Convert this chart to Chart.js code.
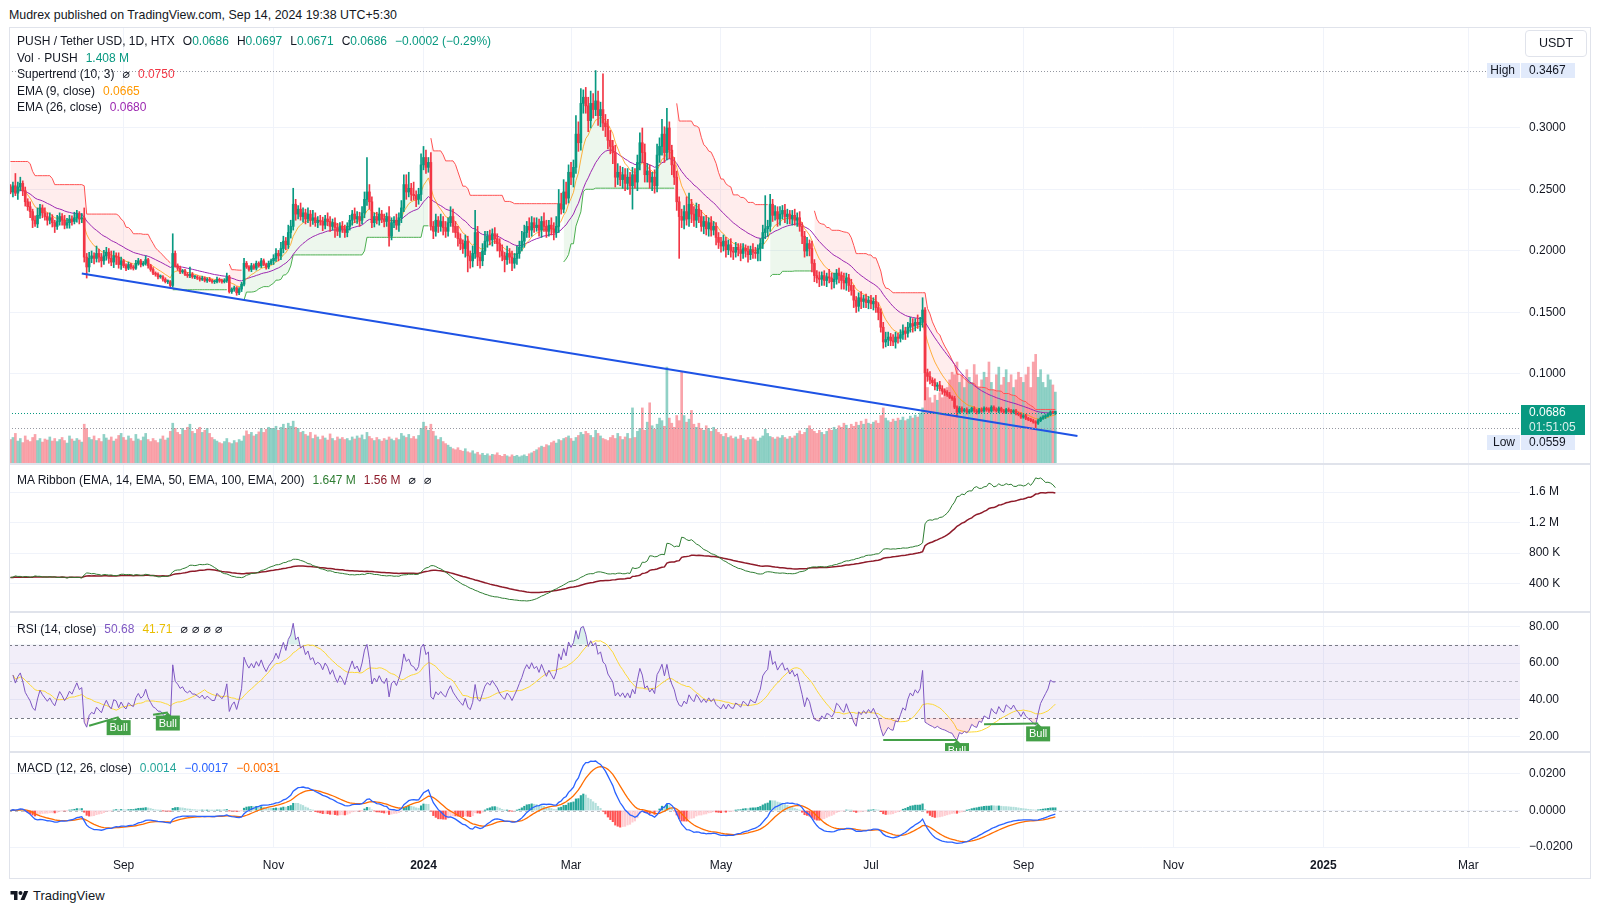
<!DOCTYPE html>
<html>
<head>
<meta charset="utf-8">
<title>PUSH / Tether USD, 1D</title>
<script src="https://cdn.jsdelivr.net/npm/chart.js@4.4.1/dist/chart.umd.min.js"></script>
<style>
  html, body { margin: 0; padding: 0; background: #fff; }
  body { width: 1600px; height: 912px; position: relative; overflow: hidden;
         font-family: "Liberation Sans", Arial, sans-serif; color: #131722; }
  canvas { position: absolute; left: 0; }
  .txt { position: absolute; white-space: nowrap; font-size: 12px; line-height: 16px; }
  .gap { display: inline-block; width: 8px; }
  .up { color: #089981; }
  .ln { position: absolute; background: #E0E3EB; }
  .na { color: #131722; font-family: "DejaVu Sans", sans-serif; font-size: 12.5px; }
  #unit { position: absolute; left: 1525px; top: 30px; width: 60px; height: 25px; border: 1px solid #E0E3EB;
          border-radius: 4px; font-size: 12.5px; line-height: 25px; text-align: center; }
  #logo { position: absolute; left: 10px; top: 888px; font-size: 13px; line-height: 16px; display: flex; align-items: center; gap: 4px; }
</style>
</head>
<body>
<canvas id="cPrice" width="1600" height="436" style="top:28px"></canvas>
<canvas id="cRibbon" width="1600" height="148" style="top:464px"></canvas>
<canvas id="cRsi" width="1600" height="140" style="top:612px"></canvas>
<canvas id="cMacd" width="1600" height="126" style="top:752px"></canvas>

<!-- frame and pane separators -->
<div class="ln" style="left:9px;top:27px;width:1582px;height:1px"></div>
<div class="ln" style="left:9px;top:27px;width:1px;height:852px"></div>
<div class="ln" style="left:1590px;top:27px;width:1px;height:852px"></div>
<div class="ln" style="left:9px;top:878px;width:1582px;height:1px"></div>
<div class="ln" style="left:9px;top:463px;width:1582px;height:2px"></div>
<div class="ln" style="left:9px;top:611px;width:1582px;height:2px"></div>
<div class="ln" style="left:9px;top:751px;width:1582px;height:2px"></div>

<div class="txt" style="left:9px;top:7px;font-size:12.4px">Mudrex published on TradingView.com, Sep 14, 2024 19:38 UTC+5:30</div>
<div id="unit">USDT</div>

<div class="txt" style="left:17px;top:33px">PUSH / Tether USD, 1D, HTX<span class="gap"></span>O<span class="up">0.0686</span><span class="gap"></span>H<span class="up">0.0697</span><span class="gap"></span>L<span class="up">0.0671</span><span class="gap"></span>C<span class="up">0.0686</span><span class="gap"></span><span class="up">&minus;0.0002 (&minus;0.29%)</span></div>
<div class="txt" style="left:17px;top:50px">Vol &middot; PUSH<span class="gap"></span><span class="up">1.408 M</span></div>
<div class="txt" style="left:17px;top:66px">Supertrend (10, 3)<span class="gap"></span><span class="na">&#8960;</span><span class="gap"></span><span style="color:#F23645">0.0750</span></div>
<div class="txt" style="left:17px;top:83px">EMA (9, close)<span class="gap"></span><span style="color:#FF9800">0.0665</span></div>
<div class="txt" style="left:17px;top:99px">EMA (26, close)<span class="gap"></span><span style="color:#9C27B0">0.0680</span></div>

<div class="txt" style="left:17px;top:472px">MA Ribbon (EMA, 14, EMA, 50, EMA, 100, EMA, 200)<span class="gap"></span><span style="color:#2E7D32">1.647 M</span><span class="gap"></span><span style="color:#8E1B2A">1.56 M</span><span class="gap"></span><span class="na">&#8960;</span><span class="gap"></span><span class="na">&#8960;</span></div>
<div class="txt" style="left:17px;top:621px">RSI (14, close)<span class="gap"></span><span style="color:#7E57C2">50.68</span><span class="gap"></span><span style="color:#E9BE00">41.71</span><span class="gap"></span><span class="na">&#8960;&nbsp;&#8960;&nbsp;&#8960;&nbsp;&#8960;</span></div>
<div class="txt" style="left:17px;top:760px">MACD (12, 26, close)<span class="gap"></span><span style="color:#26A69A">0.0014</span><span class="gap"></span><span style="color:#2962FF">&minus;0.0017</span><span class="gap"></span><span style="color:#FF6D00">&minus;0.0031</span></div>

<div id="logo"><svg width="19" height="14" viewBox="0 0 36 28"><path d="M14 22H7V11H0V4h14v18zM28 22h-8l7.5-18h8L28 22z" fill="#131722"/><circle cx="20" cy="8" r="4" fill="#131722"/></svg><span>TradingView</span></div>

<script>
// =============================================================================
// Data (daily candles, PUSH/USDT on HTX)
// closes and wicks are typed in 1/10000 USDT, volumes in units of 10 K PUSH
// =============================================================================
const START_DATE = '2023-07-17';
const FIRST_OPEN = 0.2520;
const PRICE_UNIT = 1e-4;
const VOL_UNIT = 1e4;

const close_2023_07 = [2480,2530,2470,2520,2550,2490,2400,2360,2320,2250,2220,2290,2350,2310,2280];
const close_2023_08 = [2250,2270,2230,2200,2240,2280,2250,2210,2230,2260,2240,2270,2300,2260,2270,1950,1870,1940,1960,1940,1980,1950,1920,1960,1990,1940,1910,1960,1950,1890,1920];
const close_2023_09 = [1880,1860,1890,1870,1860,1900,1920,1890,1900,1930,1880,1850,1820,1810,1790,1790,1770,1750,1750,1720,1980,1880,1860,1830,1840,1810,1800,1810,1790,1790];
const close_2023_10 = [1780,1770,1780,1760,1770,1760,1750,1750,1770,1760,1750,1760,1790,1670,1690,1700,1660,1690,1730,1900,1870,1850,1880,1860,1900,1880,1920,1890,1870,1900,1920];
const close_2023_11 = [1940,1980,1960,2020,2080,2050,2150,2200,2380,2300,2340,2280,2310,2260,2300,2250,2270,2230,2250,2240,2210,2260,2240,2200,2230,2190,2160,2200,2180,2150];
const close_2023_12 = [2200,2250,2300,2260,2280,2250,2310,2420,2480,2400,2230,2280,2250,2300,2260,2240,2280,2120,2230,2250,2210,2270,2350,2540,2480,2510,2460,2450,2420,2460,2700];
const close_2024_01 = [2760,2680,2720,2200,2160,2250,2200,2240,2190,2160,2230,2280,2200,2150,2100,2060,2020,2080,1960,1920,1980,2150,1950,1920,2000,2080,2120,2090,2140,2100,2060];
const close_2024_02 = [2000,1960,1930,1980,1950,1900,1940,1980,2030,2080,2150,2200,2170,2230,2190,2210,2170,2240,2200,2160,2210,2180,2150,2200,2380,2340,2480,2430,2640];
const close_2024_03 = [2600,2680,2950,2880,3200,3250,3180,3060,3200,3150,3220,3100,3150,3040,3010,2900,2850,2800,2600,2640,2580,2620,2550,2600,2530,2620,2560,2720,2880,2800,2620];
const close_2024_04 = [2650,2560,2600,2530,2780,2850,2950,2800,3000,2820,2700,2600,2400,2280,2250,2320,2260,2380,2300,2250,2340,2280,2200,2240,2180,2230,2170,2200,2110,2070];
const close_2024_05 = [2040,2080,2010,2050,2000,1990,2030,2010,1980,2020,2000,1970,2010,1990,1980,2020,2060,2150,2180,2200,2380,2290,2320,2260,2300,2330,2280,2300,2260,2290,2250];
const close_2024_06 = [2270,2200,2120,2000,2060,2020,1900,1800,1780,1770,1800,1760,1790,1780,1750,1770,1820,1800,1760,1740,1780,1720,1680,1600,1550,1620,1590,1610,1580,1600];
const close_2024_07 = [1570,1590,1540,1500,1380,1260,1280,1300,1270,1260,1300,1290,1320,1350,1330,1380,1410,1390,1420,1400,1420,1520,1010,980,950,930,900,910,880,860,850];
const close_2024_08 = [830,810,800,730,690,720,700,710,690,700,720,700,690,710,700,720,710,700,730,710,700,720,700,690,710,700,690,700,680,670,650];
const close_2024_09 = [660,640,630,620,610,600,620,640,650,660,670,690,686,686];

const upWick_2023_07 = [20,30,100,40,50,20,30,25,40,20,35,60,30,25,40];
const upWick_2023_08 = [30,40,25,20,50,30,25,40,35,30,25,45,30,20,35,80,30,50,40,25,60,35,30,45,40,30,60,40,25,35,30];
const upWick_2023_09 = [12,15,20,10,12,25,20,12,15,30,10,12,15,10,12,15,10,12,15,10,160,20,15,18,10,10,15,60,15,10];
const upWick_2023_10 = [10,12,15,10,12,15,10,12,18,10,12,15,30,12,10,15,10,12,15,40,15,12,20,15,18,12,20,15,12,18,15];
const upWick_2023_11 = [30,40,25,50,40,30,60,50,130,40,30,50,40,30,50,30,60,40,30,40,35,30,50,40,30,40,35,30,40,30];
const upWick_2023_12 = [30,40,30,50,40,35,50,60,280,60,40,30,35,50,30,40,30,80,40,30,50,40,60,80,80,130,40,100,40,50,90];
const upWick_2024_01 = [90,60,40,80,40,50,30,60,40,50,40,80,60,40,50,40,30,50,40,40,60,180,50,40,60,80,40,50,40,50,40];
const upWick_2024_02 = [40,50,30,60,40,50,40,60,50,80,60,40,70,50,40,60,50,40,70,50,40,60,50,80,120,90,100,80,60];
const upWick_2024_03 = [80,60,150,100,120,60,80,70,100,80,247,80,60,290,70,60,80,50,60,70,50,60,50,70,40,60,50,60,80,120,70];
const upWick_2024_04 = [60,50,40,60,90,70,120,60,160,50,40,60,50,40,60,50,120,90,40,60,50,40,50,40,50,40,50,40,30,40];
const upWick_2024_05 = [40,50,30,40,50,30,40,30,50,40,30,40,30,50,40,30,40,60,270,50,80,40,50,40,60,40,50,40,30,40,50];
const upWick_2024_06 = [40,50,30,40,50,30,60,30,40,50,30,40,30,60,40,50,30,40,30,60,40,30,50,40,30,40,50,30,40,30];
const upWick_2024_07 = [40,30,50,40,30,40,60,40,30,50,40,30,40,50,30,40,50,40,30,60,40,100,20,30,40,20,30,20,30,25,20];
const upWick_2024_08 = [15,20,12,18,10,15,12,10,15,12,10,14,12,10,15,12,10,14,12,10,15,12,10,12,10,14,12,10,12,10,14];
const upWick_2024_09 = [10,12,8,10,12,10,14,10,12,10,12,10,8,11];

const loWick_2023_07 = [15,40,20,50,30,40,35,30,50,60,20,30,25,40,30];
const loWick_2023_08 = [40,30,35,50,25,30,40,30,25,45,30,20,35,40,30,40,90,40,35,45,30,40,50,30,35,40,30,45,60,30,40];
const loWick_2023_09 = [15,20,12,18,15,10,15,20,12,15,20,15,12,15,18,12,15,10,15,20,15,12,18,15,12,10,15,18,12,15];
const loWick_2023_10 = [12,15,10,12,15,10,12,15,10,15,12,10,15,12,15,18,20,15,20,15,12,15,18,10,15,12,15,10,18,15,12];
const loWick_2023_11 = [30,25,40,30,35,40,30,45,30,50,40,30,45,40,30,50,35,30,40,30,45,30,35,40,30,80,35,50,30,40];
const loWick_2023_12 = [35,30,40,30,35,50,30,40,50,60,40,35,30,40,30,45,40,80,30,40,35,50,40,30,60,40,50,35,60,40,50];
const loWick_2024_01 = [40,50,40,30,60,40,50,40,60,50,40,30,50,40,60,50,40,70,130,60,50,40,70,60,40,30,50,40,50,40,60];
const loWick_2024_02 = [50,40,100,40,50,60,40,50,40,30,50,40,60,50,40,30,50,60,40,50,40,50,60,40,50,40,30,50,40];
const loWick_2024_03 = [60,80,50,70,60,80,60,90,60,70,50,80,90,60,80,70,60,90,80,60,50,70,60,50,70,190,50,70,60,80,60];
const loWick_2024_04 = [60,50,70,60,50,60,70,80,60,70,80,60,70,340,60,70,50,60,70,50,60,50,40,60,50,60,50,40,60,50];
const loWick_2024_05 = [50,40,60,40,50,60,40,50,60,40,50,60,40,50,40,60,100,40,50,60,40,50,40,60,50,40,50,60,40,50,40];
const loWick_2024_06 = [50,40,60,50,40,60,70,50,40,60,50,40,50,40,60,50,40,60,70,50,60,50,40,60,50,40,60,50,40,50];
const loWick_2024_07 = [40,50,40,60,40,50,40,50,40,30,50,40,30,40,50,30,40,50,40,30,50,40,220,40,30,25,30,35,20,25,25];
const loWick_2024_08 = [12,10,15,12,40,10,12,10,14,12,10,12,15,10,12,10,14,12,10,12,10,15,12,10,12,10,14,10,12,10,12];
const loWick_2024_09 = [10,12,10,8,10,41,10,8,10,12,10,8,10,15];

const vol_2023_07 = [48,52,60,45,50,42,55,47,44,52,58,46,50,43,49];
const vol_2023_08 = [47,53,45,50,44,48,52,46,41,55,49,45,50,47,43,78,70,52,48,55,46,50,44,58,51,47,53,45,49,56,60];
const vol_2023_09 = [52,47,55,50,45,58,49,46,53,60,48,44,50,46,42,49,55,47,51,64,80,70,62,58,70,66,72,78,64,60];
const vol_2023_10 = [68,72,62,66,70,60,52,48,45,42,40,44,50,42,40,46,42,48,45,55,65,58,62,55,58,63,70,62,68,72,70];
const vol_2023_11 = [70,74,66,72,78,70,80,74,84,72,70,62,64,58,55,62,50,57,53,48,55,51,47,59,50,46,53,49,52,48];
const vol_2023_12 = [50,46,53,49,55,51,57,48,62,54,50,46,52,48,45,50,47,53,49,46,51,48,60,55,52,58,50,54,49,56,70];
const vol_2024_01 = [82,74,66,78,64,55,48,52,44,40,37,33,30,28,32,27,25,30,24,22,26,20,23,18,21,17,20,16,19,18,22];
const vol_2024_02 = [17,15,19,16,14,18,15,17,14,16,18,15,20,22,25,28,32,35,33,38,36,42,45,41,48,46,50,52,55];
const vol_2024_03 = [50,45,52,56,62,58,64,60,56,52,66,60,55,50,48,46,52,56,50,60,54,48,53,60,50,110,52,64,70,110,66];
const vol_2024_04 = [82,120,75,68,78,90,85,74,190,90,80,72,95,85,180,95,82,88,105,78,72,80,70,66,75,70,64,72,68,62];
const vol_2024_05 = [58,54,60,52,55,50,53,49,56,50,47,52,48,53,49,45,51,55,68,60,54,52,49,53,51,56,52,49,54,51,55];
const vol_2024_06 = [60,65,58,62,70,75,68,64,60,66,62,58,64,70,66,72,68,75,72,80,76,70,78,74,82,76,84,78,88,80];
const vol_2024_07 = [78,82,85,80,95,110,90,85,82,88,84,90,86,92,85,88,94,90,96,92,100,110,280,150,130,120,135,125,140,130,145];
const vol_2024_08 = [150,165,180,175,200,160,175,150,185,170,160,195,175,150,165,180,170,200,160,145,175,190,155,170,185,160,175,150,165,180,170];
const vol_2024_09 = [160,175,190,150,200,215,170,185,160,150,175,165,155,141];

// time axis
const TICK_DATES = ['2023-09-01','2023-11-01','2024-01-01','2024-03-01','2024-05-01','2024-07-01','2024-09-01','2024-11-01','2025-01-01','2025-03-01'];
const TICK_LABELS = ['Sep','Nov','2024','Mar','May','Jul','Sep','Nov','2025','Mar'];
const VIEW_END_DATE = '2025-03-22';

// right-hand axes
const PRICE_TICKS = [0.10, 0.15, 0.20, 0.25, 0.30];
const PRICE_TICK_LABELS = ['0.1000','0.1500','0.2000','0.2500','0.3000'];
const RIBBON_TICKS = [400000, 800000, 1200000, 1600000];
const RIBBON_TICK_LABELS = ['400 K','800 K','1.2 M','1.6 M'];
const RSI_TICKS = [20, 40, 60, 80];
const RSI_TICK_LABELS = ['20.00','40.00','60.00','80.00'];
const RSI_LEVELS = [70, 50, 30];
const MACD_TICKS = [-0.02, 0, 0.02];
const MACD_TICK_LABELS = ['\u22120.0200','0.0000','0.0200'];

// price markers
const HIGH_PRICE = 0.3467;
const LOW_PRICE = 0.0559;
const LAST_PRICE = 0.0686;
const COUNTDOWN = '01:51:05';

// drawn trend line
const TREND_DATES = ['2023-08-15', '2024-09-23'];
const TREND_PRICES = [0.1817, 0.0495];

// RSI bullish divergence marks
const BULL_FROM = ['2023-08-18', '2023-09-13', '2024-07-06', '2024-08-16'];
const BULL_TO = ['2023-08-30', '2023-09-19', '2024-08-05', '2024-09-07'];
const BULL_FROM_RSI = [25.8, 31.8, 18.0, 26.6];
const BULL_TO_RSI = [30.5, 33.0, 18.0, 27.1];

// =============================================================================
// Styling
// =============================================================================
const FONT = '"Liberation Sans", Arial, sans-serif';
const TEXT = '#131722';
const GRID = '#F0F3FA';
const UP = '#089981';
const DOWN = '#F23645';
const VOL_UP = 'rgba(8, 153, 129, 0.45)';
const VOL_DOWN = 'rgba(242, 54, 69, 0.45)';
const AXIS_W = 70;
const TIME_AXIS_H = 30;

// =============================================================================
// Series
// =============================================================================
const DAY_MS = 86400000;
const dayIdx = s => (Date.parse(s) - Date.parse(START_DATE)) / DAY_MS;
const VIEW_FROM = -0.6;
const VIEW_TO = dayIdx(VIEW_END_DATE);

const closes = [].concat(close_2023_07, close_2023_08, close_2023_09, close_2023_10, close_2023_11, close_2023_12,
  close_2024_01, close_2024_02, close_2024_03, close_2024_04, close_2024_05, close_2024_06, close_2024_07,
  close_2024_08, close_2024_09).map(v => v * PRICE_UNIT);
const upWick = [].concat(upWick_2023_07, upWick_2023_08, upWick_2023_09, upWick_2023_10, upWick_2023_11, upWick_2023_12,
  upWick_2024_01, upWick_2024_02, upWick_2024_03, upWick_2024_04, upWick_2024_05, upWick_2024_06, upWick_2024_07,
  upWick_2024_08, upWick_2024_09).map(v => v * PRICE_UNIT);
const loWick = [].concat(loWick_2023_07, loWick_2023_08, loWick_2023_09, loWick_2023_10, loWick_2023_11, loWick_2023_12,
  loWick_2024_01, loWick_2024_02, loWick_2024_03, loWick_2024_04, loWick_2024_05, loWick_2024_06, loWick_2024_07,
  loWick_2024_08, loWick_2024_09).map(v => v * PRICE_UNIT);
const volumes = [].concat(vol_2023_07, vol_2023_08, vol_2023_09, vol_2023_10, vol_2023_11, vol_2023_12,
  vol_2024_01, vol_2024_02, vol_2024_03, vol_2024_04, vol_2024_05, vol_2024_06, vol_2024_07,
  vol_2024_08, vol_2024_09).map(v => v * VOL_UNIT);

const N = closes.length;
if (upWick.length !== N || loWick.length !== N || volumes.length !== N) {
  throw new Error(`series length mismatch: ${N} ${upWick.length} ${loWick.length} ${volumes.length}`);
}

const days = closes.map((_, i) => i);
const opens = closes.map((c, i) => (i ? closes[i - 1] : FIRST_OPEN));
const highs = closes.map((c, i) => Math.max(opens[i], c) + upWick[i]);
const lows = closes.map((c, i) => Math.min(opens[i], c) - loWick[i]);
const isUp = closes.map((c, i) => c >= opens[i]);

// --- indicators, the usual TradingView definitions ---
function ema(src, len) {
  const k = 2 / (len + 1);
  let prev = null;
  return src.map(v => (prev = prev === null ? v : prev + k * (v - prev)));
}

function sma(src, len) {
  return src.map((v, i) => {
    const win = src.slice(Math.max(0, i - len + 1), i + 1).filter(x => x !== null);
    return win.length ? win.reduce((a, b) => a + b, 0) / win.length : null;
  });
}

function rsi(src, len) {
  let seed = 0;
  for (let i = 1; i <= len; i++) seed += Math.abs(src[i] - src[i - 1]);
  let up = seed / len / 2, dn = up;
  return src.map((v, i) => {
    if (!i) return null;
    const ch = v - src[i - 1];
    up = (up * (len - 1) + Math.max(ch, 0)) / len;
    dn = (dn * (len - 1) + Math.max(-ch, 0)) / len;
    return dn === 0 ? 100 : 100 - 100 / (1 + up / dn);
  });
}

function supertrend(len, factor) {
  const tr = closes.map((c, i) => i
    ? Math.max(highs[i] - lows[i], Math.abs(highs[i] - closes[i - 1]), Math.abs(lows[i] - closes[i - 1]))
    : highs[i] - lows[i]);
  const atr = [];
  tr.forEach((t, i) => {
    if (i === 0) atr.push(t);
    else if (i < len) atr.push((atr[i - 1] * i + t) / (i + 1));
    else atr.push((atr[i - 1] * (len - 1) + t) / len);
  });
  const upper = [], lower = [], dir = [], st = [];
  for (let i = 0; i < N; i++) {
    const hl2 = (highs[i] + lows[i]) / 2;
    let ub = hl2 + factor * atr[i];
    let lb = hl2 - factor * atr[i];
    let d = 1;
    if (i) {
      const pu = upper[i - 1], pl = lower[i - 1];
      lb = (lb > pl || closes[i - 1] < pl) ? lb : pl;
      ub = (ub < pu || closes[i - 1] > pu) ? ub : pu;
      d = st[i - 1] === pu ? (closes[i] > ub ? -1 : 1) : (closes[i] < lb ? 1 : -1);
    }
    upper.push(ub); lower.push(lb); dir.push(d);
    st.push(d === -1 ? lb : ub);
  }
  return { st, dir };
}

const ema9 = ema(closes, 9);
const ema26 = ema(closes, 26);
const bodyMid = closes.map((c, i) => (c + opens[i]) / 2);
const sTrend = supertrend(10, 3);
const stUp = sTrend.st.map((v, i) => (sTrend.dir[i] === -1 ? v : null));
const stDown = sTrend.st.map((v, i) => (sTrend.dir[i] === 1 ? v : null));

const volEma14 = ema(volumes, 14);
const volEma50 = ema(volumes, 50);

const rsi14 = rsi(closes, 14);
const rsiMa = sma(rsi14, 14);

const macdLine = ema(closes, 12).map((v, i) => v - ema26[i]);
const signalLine = ema(macdLine, 9);
const hist = macdLine.map((v, i) => v - signalLine[i]);
const histColors = hist.map((h, i) => {
  const p = i ? hist[i - 1] : h;
  if (h >= 0) return h >= p ? '#26A69A' : '#B2DFDB';
  return h < p ? '#FF5252' : '#FFCDD2';
});

const pts = arr => arr.map((v, i) => ({ x: days[i], y: v }));
const span = (a, b) => days.map(i => ({ x: i, y: [a[i], b[i]] }));
const candleColors = isUp.map(u => (u ? UP : DOWN));

// =============================================================================
// Shared chart options
// =============================================================================
Chart.defaults.font.family = FONT;
Chart.defaults.font.size = 12;
Chart.defaults.color = TEXT;
Chart.defaults.animation = false;
Chart.defaults.plugins.legend.display = false;
Chart.defaults.plugins.tooltip.enabled = false;
Chart.defaults.elements.point.radius = 0;
Chart.defaults.elements.line.borderWidth = 1;
Chart.defaults.elements.line.tension = 0;

// the panes must fill their canvases exactly, so drop Chart.js' label padding
const noPad = s => { s.paddingTop = 0; s.paddingBottom = 0; s.paddingLeft = 0; s.paddingRight = 0; };

function timeAxis(showLabels) {
  return {
    type: 'linear', min: VIEW_FROM, max: VIEW_TO, offset: false,
    afterBuildTicks: s => { s.ticks = TICK_DATES.map(d => ({ value: dayIdx(d) })); },
    afterFit: s => { s.height = showLabels ? TIME_AXIS_H : 0; noPad(s); },
    grid: { color: GRID, drawTicks: false, offset: false },
    border: { display: false },
    ticks: {
      display: showLabels, autoSkip: false, maxRotation: 0, padding: 10, color: TEXT,
      callback: (v, i) => TICK_LABELS[i],
      font: c => ({ size: 12, weight: /^\d{4}$/.test(TICK_LABELS[c.index]) ? 'bold' : 'normal' })
    }
  };
}

function rightAxis(min, max, values, labels) {
  return {
    position: 'right', min, max,
    afterBuildTicks: s => { s.ticks = values.map(v => ({ value: v })); },
    afterFit: s => { s.width = AXIS_W; noPad(s); },
    grid: { color: GRID, drawTicks: false },
    border: { display: false },
    ticks: { padding: 9, color: TEXT, autoSkip: false, font: { size: 12 }, callback: (v, i) => labels[i] }
  };
}

const baseOptions = (yAxes, showTime) => ({
  responsive: false,
  devicePixelRatio: 1,
  animation: false,
  events: [],
  layout: { autoPadding: false, padding: { left: 9, right: 10, top: 0, bottom: 0 } },
  scales: Object.assign({ x: timeAxis(showTime) }, yAxes)
});

// =============================================================================
// Plugins
// =============================================================================
const priceMarks = {
  id: 'priceMarks',
  afterDatasetsDraw(chart) {
    const { ctx, chartArea: a, scales: { y } } = chart;
    ctx.save();
    ctx.lineWidth = 1;
    ctx.setLineDash([1, 2]);
    [[HIGH_PRICE, '#9598A1'], [LOW_PRICE, '#9598A1'], [LAST_PRICE, UP]].forEach(([v, col]) => {
      const py = Math.round(y.getPixelForValue(v)) + 0.5;
      ctx.strokeStyle = col;
      ctx.beginPath(); ctx.moveTo(a.left, py); ctx.lineTo(a.right, py); ctx.stroke();
    });
    ctx.restore();
  },
  afterDraw(chart) {
    const { ctx, chartArea: a, scales: { y } } = chart;
    const L = a.right, tx = a.right + 9;
    const tagBg = '#E1EAFB';
    ctx.save();
    ctx.font = `12px ${FONT}`;
    ctx.textBaseline = 'middle';

    const yH = y.getPixelForValue(HIGH_PRICE);
    ctx.fillStyle = tagBg;
    ctx.fillRect(L - 33, Math.round(yH - 7.5), 33, 15);
    ctx.fillRect(L + 1, Math.round(yH - 7.5), 54, 15);
    ctx.fillStyle = TEXT;
    ctx.textAlign = 'right'; ctx.fillText('High', L - 5, yH);
    ctx.textAlign = 'left'; ctx.fillText(HIGH_PRICE.toFixed(4), tx, yH);

    const yC = y.getPixelForValue(LAST_PRICE);
    ctx.fillStyle = UP;
    ctx.fillRect(L + 1, Math.round(yC - 8), 64, 30);
    ctx.fillStyle = '#fff';
    ctx.fillText(LAST_PRICE.toFixed(4), tx, yC);
    ctx.fillStyle = 'rgba(255,255,255,0.85)';
    ctx.fillText(COUNTDOWN, tx, yC + 15);

    const yL = Math.max(y.getPixelForValue(LOW_PRICE), yC + 30);
    ctx.fillStyle = tagBg;
    ctx.fillRect(L - 33, Math.round(yL - 7.5), 33, 15);
    ctx.fillRect(L + 1, Math.round(yL - 7.5), 54, 15);
    ctx.fillStyle = TEXT;
    ctx.textAlign = 'right'; ctx.fillText('Low', L - 5, yL);
    ctx.textAlign = 'left'; ctx.fillText(LOW_PRICE.toFixed(4), tx, yL);
    ctx.restore();
  }
};

const rsiBands = {
  id: 'rsiBands',
  beforeDatasetsDraw(chart) {
    const { ctx, chartArea: a, scales: { y } } = chart;
    const top = y.getPixelForValue(RSI_LEVELS[0]);
    const bottom = y.getPixelForValue(RSI_LEVELS[2]);
    ctx.save();
    ctx.fillStyle = 'rgba(126, 87, 194, 0.1)';
    ctx.fillRect(a.left, top, a.right - a.left, bottom - top);
    ctx.setLineDash([3, 3]);
    ctx.lineWidth = 1;
    RSI_LEVELS.forEach((lv, i) => {
      const py = Math.round(y.getPixelForValue(lv)) + 0.5;
      ctx.strokeStyle = i === 1 ? 'rgba(120,123,134,0.5)' : '#787B86';
      ctx.beginPath(); ctx.moveTo(a.left, py); ctx.lineTo(a.right, py); ctx.stroke();
    });
    ctx.restore();
  },
  afterDatasetsDraw(chart) {
    const { ctx, chartArea: a, scales: { x, y } } = chart;
    ctx.save();
    ctx.beginPath(); ctx.rect(a.left, a.top, a.right - a.left, a.bottom - a.top); ctx.clip();
    ctx.font = `11px ${FONT}`;
    ctx.textAlign = 'center';
    ctx.textBaseline = 'middle';
    BULL_TO.forEach((d, i) => {
      const px = x.getPixelForValue(dayIdx(d));
      const py = y.getPixelForValue(BULL_TO_RSI[i]);
      ctx.fillStyle = '#43A047';
      ctx.beginPath();
      ctx.moveTo(px, py); ctx.lineTo(px + 4, py + 4); ctx.lineTo(px - 4, py + 4); ctx.closePath(); ctx.fill();
      ctx.fillRect(px - 12, py + 3, 24, 15);
      ctx.fillStyle = '#fff';
      ctx.fillText('Bull', px, py + 11);
    });
    ctx.restore();
  }
};

const macdZero = {
  id: 'macdZero',
  beforeDatasetsDraw(chart) {
    const { ctx, chartArea: a, scales: { y } } = chart;
    const py = Math.round(y.getPixelForValue(0)) + 0.5;
    ctx.save();
    ctx.strokeStyle = 'rgba(120,123,134,0.5)';
    ctx.setLineDash([3, 3]);
    ctx.beginPath(); ctx.moveTo(a.left, py); ctx.lineTo(a.right, py); ctx.stroke();
    ctx.restore();
  }
};

// =============================================================================
// Pane 1: candles, volume, supertrend, EMAs, trend line
// =============================================================================
new Chart(document.getElementById('cPrice'), {
  type: 'bar',
  data: {
    datasets: [
      { label: 'Volume', yAxisID: 'yv', data: pts(volumes), backgroundColor: isUp.map(u => (u ? VOL_UP : VOL_DOWN)),
        barThickness: 2, grouped: false, order: 20 },
      { type: 'line', label: 'Body middle', data: pts(bodyMid), borderColor: 'transparent', borderWidth: 0, order: 19 },
      { type: 'line', label: 'Up trend', data: pts(stUp), borderColor: '#4CAF50', backgroundColor: 'rgba(76,175,80,0.1)',
        fill: 1, spanGaps: false, order: 18 },
      { type: 'line', label: 'Down trend', data: pts(stDown), borderColor: '#FF5252', backgroundColor: 'rgba(255,82,82,0.1)',
        fill: 1, spanGaps: false, order: 18 },
      { type: 'line', label: 'EMA 26', data: pts(ema26), borderColor: '#9C27B0', order: 6 },
      { type: 'line', label: 'EMA 9', data: pts(ema9), borderColor: 'rgba(255,152,0,0.75)', order: 5 },
      { label: 'Wicks', data: span(lows, highs), backgroundColor: candleColors, barThickness: 1, grouped: false, order: 3 },
      { label: 'Bodies', data: span(opens, closes), backgroundColor: candleColors, barThickness: 2, minBarLength: 1,
        grouped: false, order: 2 },
      { type: 'line', label: 'Trend line', data: TREND_DATES.map((d, i) => ({ x: dayIdx(d), y: TREND_PRICES[i] })),
        borderColor: '#1E53E5', borderWidth: 2, order: 1 }
    ]
  },
  options: baseOptions({
    y: rightAxis(0.0268, 0.3813, PRICE_TICKS, PRICE_TICK_LABELS),
    yv: { display: false, min: 0, max: 8.55e6 }
  }, false),
  plugins: [priceMarks]
});

// =============================================================================
// Pane 2: MA ribbon on volume
// =============================================================================
new Chart(document.getElementById('cRibbon'), {
  type: 'line',
  data: {
    datasets: [
      { label: 'EMA 14', data: pts(volEma14), borderColor: '#2E7D32', order: 1 },
      { label: 'EMA 50', data: pts(volEma50), borderColor: '#8E1B2A', borderWidth: 1.5, order: 2 }
    ]
  },
  options: baseOptions({ y: rightAxis(0.028e6, 1.967e6, RIBBON_TICKS, RIBBON_TICK_LABELS) }, false)
});

// =============================================================================
// Pane 3: RSI
// =============================================================================
new Chart(document.getElementById('cRsi'), {
  type: 'line',
  data: {
    datasets: [
      { label: 'RSI', data: pts(rsi14), borderColor: '#7E57C2', order: 2,
        fill: { target: { value: 30 }, above: 'rgba(0,0,0,0)', below: 'rgba(242,54,69,0.15)' } },
      { label: 'RSI overbought', data: pts(rsi14), borderColor: 'transparent', borderWidth: 0, order: 5,
        fill: { target: { value: 70 }, above: 'rgba(8,153,129,0.15)', below: 'rgba(0,0,0,0)' } },
      { label: 'RSI MA', data: pts(rsiMa), borderColor: '#FDD835', order: 3 },
      ...BULL_FROM.map((d, i) => ({
        label: 'Bull divergence', borderColor: '#43A047', borderWidth: 2, order: 1,
        data: [{ x: dayIdx(d), y: BULL_FROM_RSI[i] }, { x: dayIdx(BULL_TO[i]), y: BULL_TO_RSI[i] }]
      }))
    ]
  },
  options: baseOptions({ y: rightAxis(11.5, 87.8, RSI_TICKS, RSI_TICK_LABELS) }, false),
  plugins: [rsiBands]
});

// =============================================================================
// Pane 4: MACD with the time axis
// =============================================================================
new Chart(document.getElementById('cMacd'), {
  type: 'bar',
  data: {
    datasets: [
      { type: 'line', label: 'MACD', data: pts(macdLine), borderColor: '#2962FF', borderWidth: 1.3, order: 1 },
      { type: 'line', label: 'Signal', data: pts(signalLine), borderColor: '#FF6D00', borderWidth: 1.3, order: 2 },
      { label: 'Histogram', data: pts(hist), backgroundColor: histColors, barThickness: 1.5, grouped: false, order: 3 }
    ]
  },
  options: baseOptions({ y: rightAxis(-0.0205, 0.0320, MACD_TICKS, MACD_TICK_LABELS) }, true),
  plugins: [macdZero]
});
</script>
</body>
</html>
